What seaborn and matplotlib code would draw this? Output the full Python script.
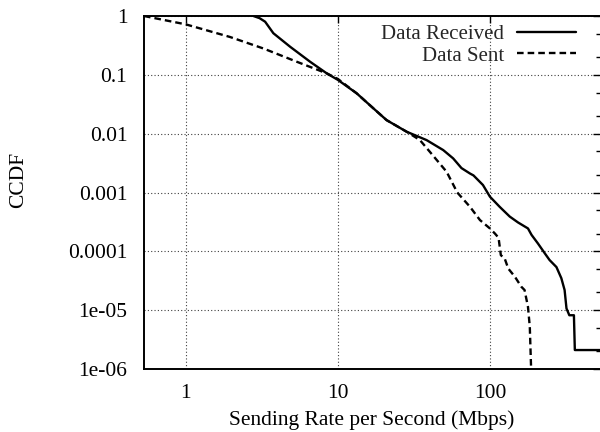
import matplotlib
matplotlib.use("Agg")
import matplotlib.pyplot as plt
import matplotlib.ticker as mticker
import seaborn as sns
import pandas as pd

# ---- data ----
recv_rate = [2.78, 3.05, 3.32, 3.76, 4.85, 6.56, 8.44, 10, 13.3, 17.1, 20.9, 28.3,
             38.3, 49.3, 57.3, 65, 74, 78, 90, 100, 116, 135, 153, 178, 188, 207,
             230, 247, 274, 295, 310, 319, 333, 357, 362, 600]
recv_ccdf = [1.0, 0.92, 0.80, 0.51, 0.30, 0.167, 0.106, 0.082, 0.0484, 0.027, 0.017, 0.0108,
             0.00778, 0.00526, 0.0038, 0.0026, 0.0021, 0.00195, 0.00134, 0.00085, 0.00057,
             0.00039, 0.00031, 0.000245, 0.00019, 0.000136, 9.2e-5, 7.1e-5, 5.4e-5, 3.5e-5,
             2.2e-5, 1.07e-5, 8.2e-6, 8.2e-6, 2.1e-6, 2.1e-6]

sent_rate = [0.53, 1.0, 1.95, 3.24, 5.36, 8.44, 10, 13.3, 17.1, 20.9, 28.3, 34.6, 40.3,
             51.9, 61, 74, 86, 100, 108, 114, 118, 125, 132, 146, 161, 169, 178, 183, 192]
sent_ccdf = [1.0, 0.72, 0.44, 0.28, 0.167, 0.106, 0.085, 0.0484, 0.027, 0.017, 0.0108,
             0.0078, 0.0049, 0.00225, 0.001, 0.00057, 0.00034, 0.000245, 0.0002, 0.00017,
             8.6e-5, 7.6e-5, 5.1e-5, 3.7e-5, 2.5e-5, 2.2e-5, 1.14e-5, 5.2e-6, 1e-7]

series_labels = ["Data Received", "Data Sent"]
x_ticks = [1, 10, 100]
x_tick_labels = ["1", "10", "100"]
y_ticks = [1, 0.1, 0.01, 0.001, 0.0001, 1e-5, 1e-6]
y_tick_labels = ["1", "0.1", "0.01", "0.001", "0.0001", "1e-05", "1e-06"]
x_label = "Sending Rate per Second (Mbps)"
y_label = "CCDF"

# ---- style ----
sns.set_theme(style="white")
plt.rcParams["font.family"] = ["Liberation Serif", "DejaVu Serif"]
FS = 15.5

fig = plt.figure(figsize=(6, 4.32), dpi=100)
ax = fig.add_axes([144 / 600, (432 - 369) / 432, 456 / 600, (369 - 16) / 432])

df_r = pd.DataFrame({"rate": recv_rate, "ccdf": recv_ccdf})
df_s = pd.DataFrame({"rate": sent_rate, "ccdf": sent_ccdf})
sns.lineplot(data=df_r, x="rate", y="ccdf", ax=ax, color="black", lw=1.7,
             estimator=None, sort=False, label=series_labels[0])
sns.lineplot(data=df_s, x="rate", y="ccdf", ax=ax, color="black", lw=1.7,
             estimator=None, sort=False, label=series_labels[1],
             linestyle=(0, (2.8, 1.7)))

ax.set_xscale("log")
ax.set_yscale("log")
ax.set_xlim(0.53, 530)
ax.set_ylim(1e-6, 1)

ax.xaxis.set_major_locator(mticker.FixedLocator(x_ticks))
ax.xaxis.set_major_formatter(mticker.FixedFormatter(x_tick_labels))
ax.xaxis.set_minor_locator(mticker.NullLocator())
ax.yaxis.set_major_locator(mticker.FixedLocator(y_ticks))
ax.yaxis.set_major_formatter(mticker.FixedFormatter(y_tick_labels))
ax.yaxis.set_minor_locator(mticker.LogLocator(base=10, subs=[2, 5], numticks=20))
ax.yaxis.set_minor_formatter(mticker.NullFormatter())

ax.tick_params(axis="both", which="major", direction="in", length=5, width=1,
               color="black", labelsize=FS, labelcolor="black",
               top=True, right=True)
ax.tick_params(axis="both", which="minor", direction="in", length=3, width=1,
               color="black", top=True, right=True)
ax.tick_params(axis="x", which="major", pad=11)
ax.tick_params(axis="y", which="major", pad=12)

ax.grid(True, which="major", linestyle=(0, (1, 2)), color="0.25", lw=0.8)

for side in ["left", "bottom", "top"]:
    ax.spines[side].set_color("black")
    ax.spines[side].set_linewidth(1.4)
ax.spines["right"].set_visible(False)

ax.set_xlabel(x_label, fontsize=FS, color="black")
ax.set_ylabel(y_label, fontsize=FS, color="black")
ax.xaxis.set_label_coords(0.5, -0.117)
ax.yaxis.set_label_coords(-0.255, 0.535)

leg = ax.legend(loc="upper right", bbox_to_anchor=(0.947, 0.975), frameon=False,
                markerfirst=False, fontsize=15, handlelength=2.8, handletextpad=0.65,
                labelspacing=0.08, borderaxespad=0.0, borderpad=0.0)

fig.savefig("out.png", dpi=100)
